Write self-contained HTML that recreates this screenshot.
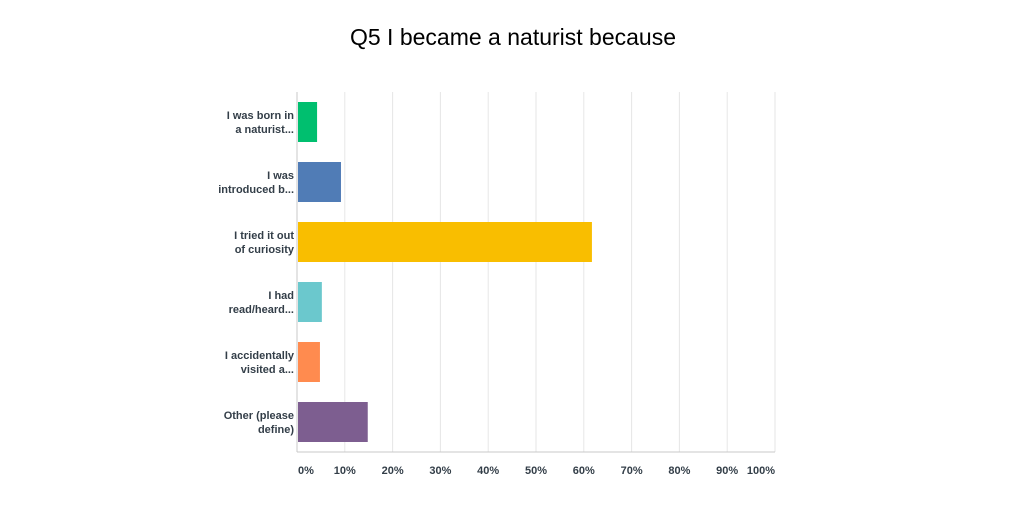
<!DOCTYPE html>
<html><head><meta charset="utf-8"><style>
body{margin:0;background:#fff;}
svg text{font-family:"Liberation Sans",sans-serif;}
</style></head><body>
<svg width="1024" height="505">
<text x="513" y="45" text-anchor="middle" font-size="23" fill="#000">Q5 I became a naturist because</text>
<g id="grid"></g><g id="bars"></g><g id="ylabels"></g><g id="xlabels"></g>
</svg>
<script>
const categories=[["I was born in","a naturist..."],["I was","introduced b..."],["I tried it out","of curiosity"],["I had","read/heard..."],["I accidentally","visited a..."],["Other (please","define)"]];
const values=[4.2,9.2,61.7,5.2,4.8,14.8];
const colors=["#00bf6f","#507cb6","#f9be00","#6bc8cd","#ff8b4f","#7d5e90"];
const ticks=[0,10,20,30,40,50,60,70,80,90,100];
const tickLabels=["0%","10%","20%","30%","40%","50%","60%","70%","80%","90%","100%"];
const NS="http://www.w3.org/2000/svg";
const x0=297,x1=775,yTop=92,yBot=452;
const xs=v=>x0+(x1-x0)*v/100;
const band=(yBot-yTop)/categories.length;
function mk(t,a,p){const e=document.createElementNS(NS,t);for(const k in a)e.setAttribute(k,a[k]);p.appendChild(e);return e;}
const g=document.getElementById('grid');
ticks.forEach((t,i)=>{
 if(i>0){const l=mk('line',{x1:xs(t),x2:xs(t),y1:yTop,y2:yBot,stroke:'#e6e6e6','stroke-width':1},g);
 
 }
 const anchor=i===0?'start':(i===ticks.length-1?'end':'middle');
 const tx=mk('text',{x:i===0?xs(t)+1:xs(t),y:474,'text-anchor':anchor,'font-size':11,'font-weight':'bold',fill:'#333e48'},document.getElementById('xlabels'));
 tx.textContent=tickLabels[i];
 
 
});
const ax=mk('line',{x1:x0,x2:x0,y1:yTop,y2:yBot,stroke:'#c8c8c8'},g);


const ax2=mk('line',{x1:x0,x2:x1,y1:yBot,y2:yBot,stroke:'#c8c8c8'},g);


categories.forEach((c,i)=>{
 const yc=yTop+band*(i+0.5);
 const r=mk('rect',{x:x0+1,y:yc-20,width:xs(values[i])-x0-1,height:40,fill:colors[i]},document.getElementById('bars'));
 
 
 c.forEach((line,j)=>{
  const t=mk('text',{x:294,y:yc-3+j*14,'text-anchor':'end','font-size':11,'font-weight':'bold',fill:'#333e48'},document.getElementById('ylabels'));
  t.textContent=line;
  
  
 });
});
</script>
</body></html>
